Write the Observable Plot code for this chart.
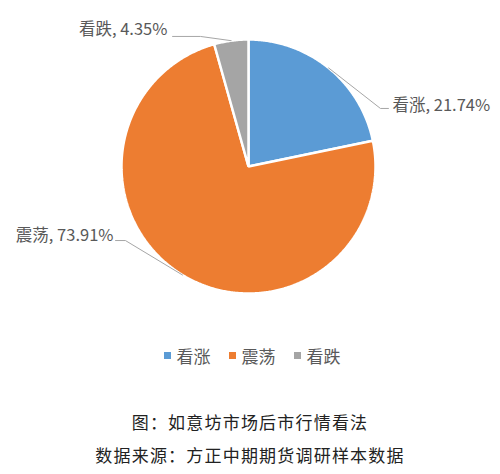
<!DOCTYPE html>
<html>
<head>
<meta charset="utf-8">
<script src="https://cdn.jsdelivr.net/npm/d3@7"></script>
<script src="https://cdn.jsdelivr.net/npm/@observablehq/plot@0.6"></script>
<style>
  html, body { margin: 0; padding: 0; background: #fff; }
  body { width: 500px; font-family: "Noto Sans CJK SC", "Noto Sans", sans-serif; }
  #chart svg { display: block; }
  .legend { display: flex; justify-content: center; align-items: center; height: 20px; margin-top: 15px; margin-left: 4px; font-size: 17px; color: #595959; }
  .legend .item { display: flex; align-items: center; margin: 0 9px; }
  .legend .sw { width: 7px; height: 7px; margin-right: 6px; }
  .caption { text-align: center; font-size: 17px; letter-spacing: 1.2px; color: #222; line-height: 33px; margin-top: 40px; }
</style>
</head>
<body>
<div id="chart"></div>
<div class="legend" id="legend"></div>
<div class="caption">
  <div>图：如意坊市场后市行情看法</div>
  <div>数据来源：方正中期期货调研样本数据</div>
</div>
<script>
// ---- data ----
const categories = ["看涨", "震荡", "看跌"];
const shares = [21.74, 73.91, 4.35];
const colors = ["#5B9BD5", "#ED7D31", "#A5A5A5"];

// ---- layout ----
const W = 500, H = 330, R = 127, CX = 248, CY = 166;
// label placements in unit-radius coordinates (elbow, line end, text anchor)
const labelLayout = {
  "看涨": {elbow: [1.039, 0.457], end: [1.102, 0.457], text: [1.134, 0.48], anchor: "start"},
  "看跌": {elbow: [-0.378, 1.024], end: [-0.598, 1.024], text: [-0.638, 1.079], anchor: "end"},
  "震荡": {elbow: [-0.969, -0.583], end: [-1.047, -0.583], text: [-1.063, -0.543], anchor: "end"}
};

const rows = categories.map((c, i) => ({name: c, value: shares[i]}));
const arcs = d3.pie().sort(null).value(d => d.value)(rows);

// slice polygons (unit circle, y up, angle 0 at top, clockwise)
const slicePts = [];
arcs.forEach(a => {
  const name = a.data.name;
  slicePts.push({name, x: 0, y: 0});
  const n = Math.max(2, Math.ceil((a.endAngle - a.startAngle) / (Math.PI / 360)));
  for (let k = 0; k <= n; k++) {
    const t = a.startAngle + (a.endAngle - a.startAngle) * k / n;
    slicePts.push({name, x: Math.sin(t), y: Math.cos(t)});
  }
});

// leader lines and labels
const leaderPts = [];
const labels = [];
arcs.forEach(a => {
  const name = a.data.name;
  const L = labelLayout[name];
  const mid = (a.startAngle + a.endAngle) / 2;
  leaderPts.push({name, x: Math.sin(mid), y: Math.cos(mid)});
  leaderPts.push({name, x: L.elbow[0], y: L.elbow[1]});
  leaderPts.push({name, x: L.end[0], y: L.end[1]});
  labels.push({name, x: L.text[0], y: L.text[1], anchor: L.anchor,
    label: `${name}, ${a.data.value.toFixed(2)}%`});
});

const plot = Plot.plot({
  width: W, height: H,
  margin: 0,
  x: {type: "linear", domain: [-CX / R, (W - CX) / R], range: [0, W], axis: null},
  y: {type: "linear", domain: [(CY - H) / R, CY / R], range: [H, 0], axis: null},
  color: {domain: categories, range: colors},
  style: {fontFamily: "'Noto Sans CJK SC', sans-serif", background: "#fff"},
  marks: [
    Plot.line(slicePts, {x: "x", y: "y", z: "name", fill: "name", stroke: "#fff", strokeWidth: 2.5, curve: "linear-closed", strokeLinejoin: "miter"}),
    Plot.line(leaderPts, {x: "x", y: "y", z: "name", stroke: "#A6A6A6", strokeWidth: 1, curve: "linear"}),
    Plot.text(labels.filter(d => d.anchor === "start"), {x: "x", y: "y", text: "label", textAnchor: "start", fill: "#595959", fontSize: 16.5}),
    Plot.text(labels.filter(d => d.anchor === "end"), {x: "x", y: "y", text: "label", textAnchor: "end", fill: "#595959", fontSize: 16.5})
  ]
});
document.getElementById("chart").appendChild(plot);

// legend
const leg = document.getElementById("legend");
categories.forEach((c, i) => {
  const it = document.createElement("div");
  it.className = "item";
  const sw = document.createElement("span");
  sw.className = "sw";
  sw.style.background = colors[i];
  const tx = document.createElement("span");
  tx.textContent = c;
  it.appendChild(sw); it.appendChild(tx);
  leg.appendChild(it);
});
</script>
</body>
</html>
